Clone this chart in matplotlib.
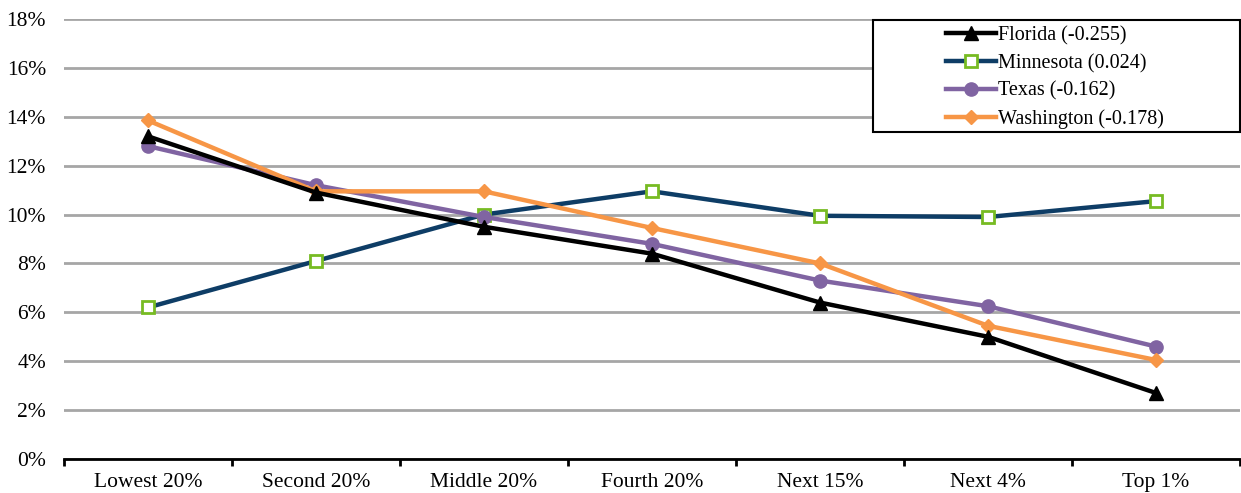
import matplotlib.pyplot as plt
import matplotlib.patches as mpatches
import numpy as np

plt.rcParams['font.family'] = ['Liberation Serif', 'DejaVu Serif']

categories = ['Lowest 20%', 'Second 20%', 'Middle 20%', 'Fourth 20%', 'Next 15%', 'Next 4%', 'Top 1%']
florida = [13.2, 10.9, 9.5, 8.4, 6.4, 5.0, 2.7]
minnesota = [6.2, 8.1, 10.0, 10.95, 9.95, 9.9, 10.55]
texas = [12.8, 11.2, 9.9, 8.8, 7.3, 6.25, 4.6]
washington = [13.85, 10.95, 10.95, 9.45, 8.0, 5.45, 4.05]

W, H = 1241, 493
fig = plt.figure(figsize=(W / 100, H / 100), dpi=100)
ax = fig.add_axes([64 / W, 34 / H, 1176 / W, 440 / H])

x = np.arange(len(categories))
ax.plot(x, minnesota, color='#0E3D66', lw=3.2, marker='s', ms=8.5, mfc='white', mec='#77BB22', mew=2,
        label='Minnesota (0.024)', zorder=3)
ax.plot(x, texas, color='#8064A2', lw=3.2, marker='o', ms=9.5, label='Texas (-0.162)', zorder=3)
ax.plot(x, washington, color='#F79646', lw=3.2, marker='D', ms=7, label='Washington (-0.178)', zorder=3)
ax.plot(x, florida, color='black', lw=3.2, marker='^', ms=10, label='Florida (-0.255)', zorder=4)

ax.set_xlim(-0.5, len(categories) - 0.5)
ax.set_ylim(0, 18)
ax.set_yticks(np.arange(0, 19, 2))
ax.set_yticklabels([f'{v}%' for v in range(0, 19, 2)])
ax.yaxis.grid(True, color='#A6A6A6', lw=2)
ax.set_axisbelow(True)

ax.set_xticks(x)
ax.set_xticklabels(categories)
ax.set_xticks(np.arange(-0.5, len(categories), 1), minor=True)
ax.tick_params(axis='x', which='major', length=0, pad=10, labelsize=15.5)
ax.tick_params(axis='x', which='minor', length=5, width=2, direction='out')
ax.tick_params(axis='y', length=0, pad=13, labelsize=15.5)

for s in ['top', 'right', 'left']:
    ax.spines[s].set_visible(False)
ax.spines['bottom'].set_linewidth(2)

# legend box drawn separately (wide box with left padding like the original)
box = mpatches.Rectangle((873 / W, (H - 132) / H), 367 / W, 112 / H, transform=fig.transFigure,
                         facecolor='white', edgecolor='black', lw=1.5, zorder=5)
fig.patches.append(box)

h, l = ax.get_legend_handles_labels()
order = [3, 0, 1, 2]
leg = fig.legend([h[i] for i in order], [l[i] for i in order], loc='upper left',
                 bbox_to_anchor=(940 / W, (H - 20) / H), fontsize=14.5, frameon=False,
                 handlelength=2.5, borderpad=0.3, labelspacing=0.42, handletextpad=0.1,
                 borderaxespad=0)
leg.set_zorder(6)

fig.savefig('out.png', dpi=100)
